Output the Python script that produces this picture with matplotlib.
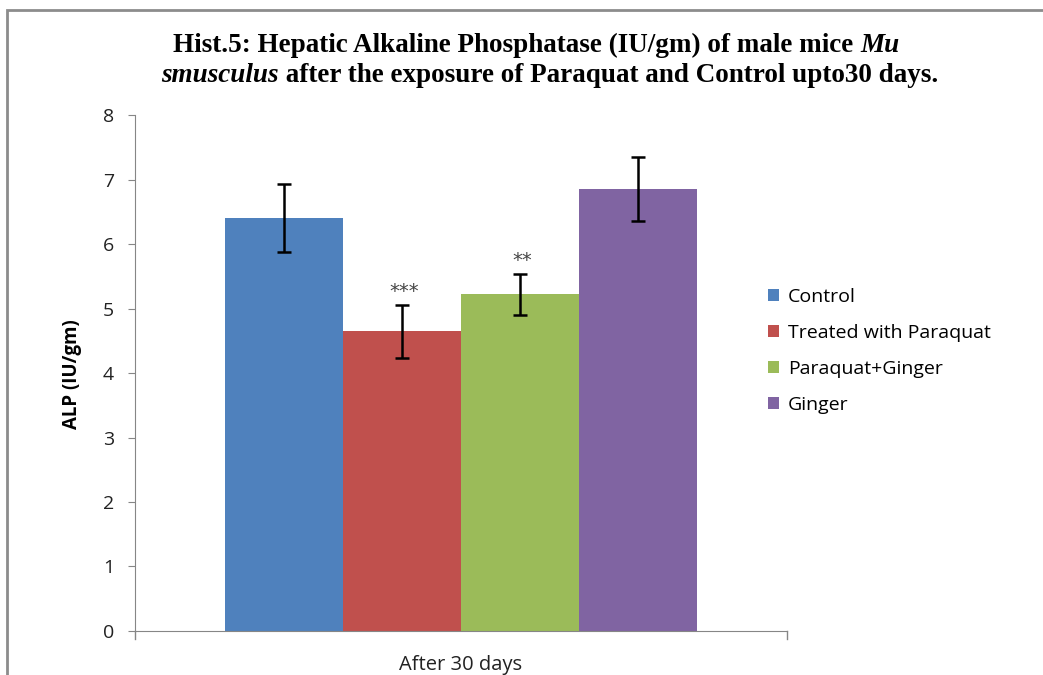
import matplotlib.pyplot as plt
from matplotlib.patches import Rectangle

groups = ['Control', 'Treated with Paraquat', 'Paraquat+Ginger', 'Ginger']
alp_means = [6.40, 4.65, 5.22, 6.85]
alp_err = [0.53, 0.41, 0.32, 0.50]
signif = ['', '***', '**', '']
colors = ['#4F81BD', '#C0504D', '#9BBB59', '#8064A2']
category = 'After 30 days'

fig = plt.figure(figsize=(10.43, 6.75), dpi=100)
ax = fig.add_axes([0.1294, 0.0652, 0.6252, 0.7644])

# cadre gris autour du graphique
fig.patches.append(Rectangle((7 / 1043, -0.1), 1.2, 1 - 10 / 675 + 0.1,
                             transform=fig.transFigure, fill=False,
                             edgecolor='#8c8c8c', lw=2))

w = 0.1806
for i, (g, m, e) in enumerate(zip(groups, alp_means, alp_err)):
    x = (i - 1.5) * w
    ax.bar(x, m, width=w, color=colors[i], label=g)
    ax.errorbar(x, m, yerr=e, fmt='none', ecolor='black', elinewidth=1.8,
                capsize=5, capthick=1.8)
    if signif[i]:
        ax.text(x + 0.003, m + e + 0.2, signif[i], ha='center', va='center',
                fontsize=14, color='#444444', family='DejaVu Sans')

ax.set_xlim(-0.5, 0.5)
ax.set_ylim(0, 8)
ax.set_yticks(range(0, 9))
ax.set_xticks([])
for s in ['top', 'right']:
    ax.spines[s].set_visible(False)
for s in ['left', 'bottom']:
    ax.spines[s].set_color('#868686')
ax.tick_params(axis='y', direction='out', length=5, color='#868686',
               labelsize=14, pad=10)
for lab in ax.get_yticklabels():
    lab.set_family('Open Sans')
    lab.set_color('#222222')
# petites marques aux extrémités de l'axe x
for xe in (-0.5, 0.5):
    ax.plot([xe, xe], [0, -0.12], color='#868686', lw=1, clip_on=False)
ax.text(0, -0.52, category, ha='center', va='center', fontsize=14.5,
        family='Open Sans', color='#222222')

fig.text(72 / 1043, 1 - 374 / 675, 'ALP (IU/gm)', rotation=90, ha='center',
         va='center', fontsize=13.5, fontweight='bold', family='Open Sans')

fig.legend(loc='center left', bbox_to_anchor=(750 / 1043, 1 - 351 / 675),
           frameon=False, handlelength=0.6, handleheight=0.6,
           handletextpad=0.45, labelspacing=0.92,
           prop={'family': 'Open Sans', 'size': 14})

# titre en morceaux (romain gras + italique)
title_lines = [
    [('Hist.5: Hepatic Alkaline Phosphatase (IU/gm) of male mice ', 'normal'),
     ('Mu', 'italic')],
    [('smusculus', 'italic'),
     (' after the exposure of Paraquat and Control upto30 days.', 'normal')],
]
fig.canvas.draw()
rend = fig.canvas.get_renderer()
for ly, cx, pieces in zip([45, 76], [536, 550], title_lines):
    texts = []
    for s, st in pieces:
        t = fig.text(0, 1 - ly / 675, s, fontsize=19.5, fontweight='bold',
                     style=st, family='Liberation Serif', va='center',
                     ha='left')
        texts.append(t)
    widths = [t.get_window_extent(rend).width for t in texts]
    x0 = cx - sum(widths) / 2
    for t, wd in zip(texts, widths):
        t.set_x(x0 / 1043)
        x0 += wd

fig.savefig('out.png', dpi=100)
